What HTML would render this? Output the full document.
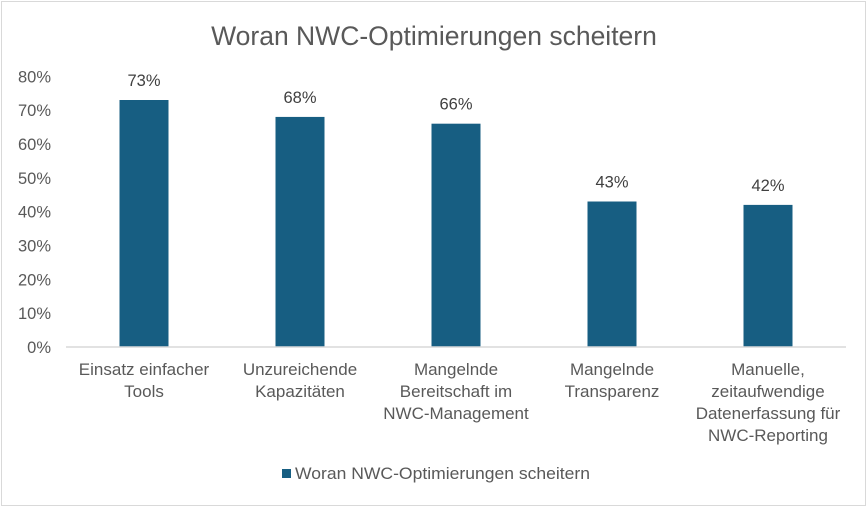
<!DOCTYPE html>
<html><head><meta charset="utf-8"><style>
body{margin:0;background:#fff;}
svg text{font-family:"Liberation Sans",sans-serif;}
</style></head><body>
<svg width="868" height="508" viewBox="0 0 868 508">
<rect x="1.5" y="1.5" width="864" height="504" fill="#fff" stroke="#d9d9d9"/>
<text x="434" y="45" text-anchor="middle" font-size="26.5" fill="#595959">Woran NWC-Optimierungen scheitern</text>
<g id="yaxis"></g>
<g id="bars"></g>
<g id="cats"></g>
<line x1="66" y1="347" x2="846" y2="347" stroke="#d9d9d9" stroke-width="1.5"/>
<rect x="282" y="469" width="9" height="9" fill="#175e82"/>
<text x="295" y="479" font-size="16.5" fill="#595959" textLength="295" lengthAdjust="spacingAndGlyphs">Woran NWC-Optimierungen scheitern</text>
</svg>
<script>
const categories=[["Einsatz einfacher","Tools"],["Unzureichende","Kapazitäten"],["Mangelnde","Bereitschaft im","NWC-Management"],["Mangelnde","Transparenz"],["Manuelle,","zeitaufwendige","Datenerfassung für","NWC-Reporting"]];
const values=[73,68,66,43,42];
const valueLabels=["73%","68%","66%","43%","42%"];
const yTicks=[0,10,20,30,40,50,60,70,80];
const yTickLabels=["0%","10%","20%","30%","40%","50%","60%","70%","80%"];
const NS="http://www.w3.org/2000/svg";
const x0=66,step=156,bw=49,yBase=347,k=247/73;
const y=v=>yBase-v*k;
const cx=i=>x0+step*(i+0.5);
function mk(tag,attrs,parent,txt){const e=document.createElementNS(NS,tag);for(const a in attrs)e.setAttribute(a,attrs[a]);if(txt!==undefined)e.textContent=txt;document.getElementById(parent).appendChild(e);return e;}
yTicks.forEach((t,i)=>{
 const e=mk("text",{x:51,y:y(t)+6,"text-anchor":"end","font-size":"16.5",fill:"#595959"},"yaxis",yTickLabels[i]);
 
 
});
values.forEach((v,i)=>{
 const r=mk("rect",{x:cx(i)-bw/2,y:y(v),width:bw,height:yBase-y(v),fill:"#175e82"},"bars");
 
 
 const l=mk("text",{x:cx(i),y:y(v)-14,"text-anchor":"middle","font-size":"16.5",fill:"#404040"},"bars",valueLabels[i]);
 
 
});
categories.forEach((c,i)=>{
 c.forEach((line,j)=>{
  const t=mk("text",{x:cx(i),y:375+j*22,"text-anchor":"middle","font-size":"17",fill:"#595959"},"cats",line);
  
  
 });
});
</script>
</body></html>
